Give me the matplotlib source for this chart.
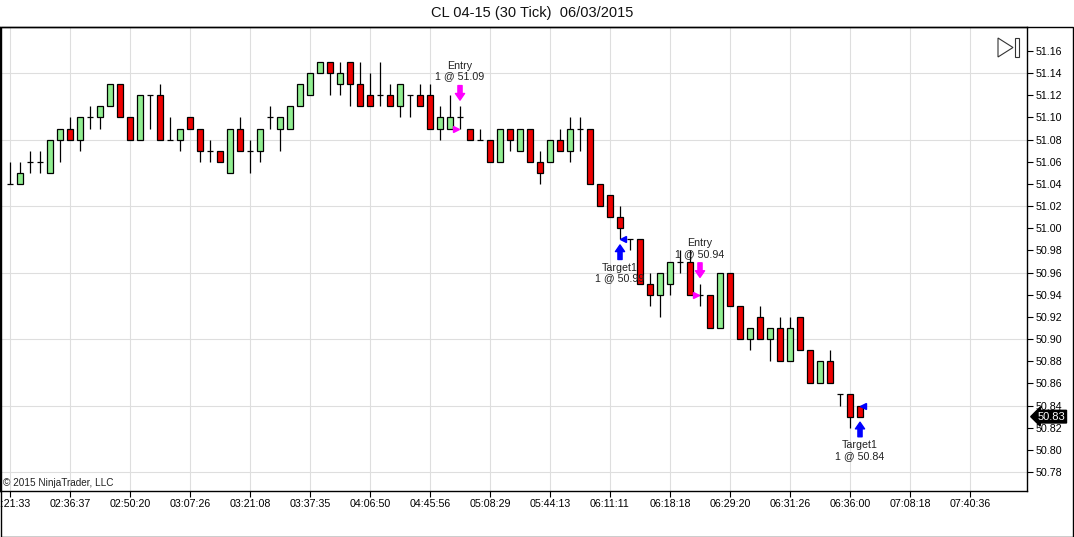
import matplotlib
matplotlib.use('Agg')
import matplotlib.pyplot as plt
import matplotlib.transforms as mtransforms
from matplotlib.patches import Polygon, Rectangle
import numpy as np

plt.rcParams['font.family'] = ['Liberation Sans', 'DejaVu Sans']

# OHLC for each 30-tick bar
opens = [51.04, 51.04, 51.06, 51.06, 51.05, 51.08, 51.09, 51.08, 51.10, 51.10,
         51.11, 51.13, 51.10, 51.08, 51.12, 51.12, 51.08, 51.08, 51.10, 51.09,
         51.07, 51.07, 51.05, 51.09, 51.07, 51.07, 51.10, 51.09, 51.09, 51.11,
         51.12, 51.14, 51.15, 51.13, 51.15, 51.13, 51.12, 51.12, 51.12, 51.11,
         51.12, 51.12, 51.12, 51.09, 51.09, 51.10, 51.09, 51.08, 51.08, 51.06,
         51.09, 51.07, 51.09, 51.06, 51.06, 51.08, 51.07, 51.09, 51.09, 51.04,
         51.03, 51.01, 50.99, 50.99, 50.95, 50.94, 50.95, 50.97, 50.97, 50.94,
         50.94, 50.91, 50.96, 50.93, 50.90, 50.92, 50.90, 50.91, 50.88, 50.92,
         50.89, 50.86, 50.88, 50.85, 50.85, 50.84]
highs = [51.06, 51.06, 51.07, 51.07, 51.08, 51.09, 51.10, 51.10, 51.11, 51.11,
         51.13, 51.13, 51.10, 51.12, 51.12, 51.13, 51.10, 51.09, 51.10, 51.09,
         51.08, 51.07, 51.09, 51.10, 51.08, 51.09, 51.11, 51.10, 51.11, 51.13,
         51.14, 51.15, 51.15, 51.15, 51.15, 51.15, 51.14, 51.15, 51.13, 51.13,
         51.12, 51.13, 51.13, 51.11, 51.12, 51.11, 51.09, 51.09, 51.08, 51.09,
         51.09, 51.09, 51.09, 51.07, 51.08, 51.09, 51.10, 51.10, 51.09, 51.04,
         51.03, 51.02, 50.99, 50.99, 50.96, 50.96, 50.97, 50.98, 50.98, 50.95,
         50.94, 50.96, 50.96, 50.93, 50.91, 50.93, 50.91, 50.92, 50.92, 50.92,
         50.89, 50.88, 50.89, 50.85, 50.85, 50.84]
lows = [51.04, 51.04, 51.05, 51.05, 51.05, 51.06, 51.08, 51.07, 51.09, 51.09,
        51.11, 51.10, 51.08, 51.08, 51.09, 51.08, 51.08, 51.07, 51.09, 51.06,
        51.06, 51.06, 51.05, 51.07, 51.05, 51.06, 51.09, 51.07, 51.09, 51.11,
        51.12, 51.14, 51.12, 51.12, 51.11, 51.11, 51.11, 51.11, 51.11, 51.10,
        51.10, 51.11, 51.09, 51.08, 51.09, 51.09, 51.08, 51.08, 51.06, 51.06,
        51.07, 51.07, 51.06, 51.04, 51.06, 51.07, 51.06, 51.07, 51.04, 51.02,
        51.01, 50.99, 50.98, 50.95, 50.93, 50.92, 50.94, 50.96, 50.94, 50.93,
        50.91, 50.91, 50.93, 50.90, 50.89, 50.90, 50.88, 50.88, 50.88, 50.89,
        50.86, 50.86, 50.86, 50.84, 50.82, 50.83]
closes = [51.04, 51.05, 51.06, 51.06, 51.08, 51.09, 51.08, 51.10, 51.10, 51.11,
          51.13, 51.10, 51.08, 51.12, 51.12, 51.08, 51.08, 51.09, 51.09, 51.07,
          51.07, 51.06, 51.09, 51.07, 51.07, 51.09, 51.10, 51.10, 51.11, 51.13,
          51.14, 51.15, 51.14, 51.14, 51.13, 51.11, 51.11, 51.12, 51.11, 51.13,
          51.12, 51.11, 51.09, 51.10, 51.10, 51.10, 51.08, 51.08, 51.06, 51.09,
          51.08, 51.09, 51.06, 51.05, 51.08, 51.07, 51.09, 51.09, 51.04, 51.02,
          51.01, 51.00, 50.99, 50.95, 50.94, 50.96, 50.97, 50.97, 50.94, 50.94,
          50.91, 50.96, 50.93, 50.90, 50.91, 50.90, 50.91, 50.88, 50.91, 50.89,
          50.86, 50.88, 50.86, 50.85, 50.83, 50.83]

time_labels = ['02:21:33', '02:36:37', '02:50:20', '03:07:26', '03:21:08', '03:37:35',
               '04:06:50', '04:45:56', '05:08:29', '05:44:13', '06:11:11', '06:18:18',
               '06:29:20', '06:31:26', '06:36:00', '07:08:18', '07:40:36']
bars_per_label = 6

# executions: bar index and fill price
entry_bars = [45, 69]
entry_prices = [51.09, 50.94]
target_bars = [61, 85]
target_prices = [50.99, 50.84]

price_ticks = np.round(np.arange(50.78, 51.161, 0.02), 2)
grid_prices = np.round(np.arange(50.78, 51.161, 0.06), 2)

up_color = '#90ee90'
down_color = '#ee0000'

W, H = 1074, 537
fig = plt.figure(figsize=(W / 100, H / 100), dpi=100)
ax = fig.add_axes([0.0, (H - 491) / H, 1027 / W, (491 - 27) / H])

n = len(opens)
x = np.arange(n)
o = np.array(opens); h = np.array(highs); l = np.array(lows); c = np.array(closes)

ax.set_xlim(-1, 101.7)
ax.set_ylim(51.16 - 440 / 1108, 51.16 + 24 / 1108)

# grid
for gx in range(0, 101, bars_per_label):
    ax.axvline(gx, color='#dedede', lw=0.8, zorder=0)
for gp in grid_prices:
    ax.axhline(gp, color='#dedede', lw=0.8, zorder=0)

# wicks
ax.vlines(x, l, h, color='black', lw=0.9, zorder=2)
body_w = 0.65
up = c > o
down = c < o
flat = c == o
ax.bar(x[up], (c - o)[up], bottom=o[up], width=body_w, color=up_color,
       edgecolor='black', linewidth=0.9, zorder=3)
ax.bar(x[down], (o - c)[down], bottom=c[down], width=body_w, color=down_color,
       edgecolor='black', linewidth=0.9, zorder=3)
ax.hlines(c[flat], x[flat] - body_w / 2, x[flat] + body_w / 2, color='black', lw=0.9, zorder=3)

# entries
for b, p in zip(entry_bars, entry_prices):
    ax.plot(b - 0.38, p, marker='>', color='magenta', ms=4.5, mec='magenta', zorder=4)
    ax.annotate('', xy=(b, h[b]), xytext=(0, 15), textcoords='offset points',
                arrowprops=dict(arrowstyle='simple,head_length=0.4,head_width=0.55,tail_width=0.25',
                                color='magenta', shrinkA=0, shrinkB=4.5, mutation_scale=12), zorder=4)
    ax.annotate(f'Entry\n1 @ {p:.2f}', xy=(b, h[b]), xytext=(-0.5, 18), textcoords='offset points',
                ha='center', va='bottom', fontsize=7.7, color='#222222', linespacing=1.05)

# targets
for b, p in zip(target_bars, target_prices):
    ax.plot(b + 0.35, p, marker='<', color='blue', ms=4.5, mec='blue', zorder=4)
    ax.annotate('', xy=(b, l[b]), xytext=(0, -14.5), textcoords='offset points',
                arrowprops=dict(arrowstyle='simple,head_length=0.4,head_width=0.55,tail_width=0.25',
                                color='blue', shrinkA=0, shrinkB=4, mutation_scale=12), zorder=4)
    ax.annotate(f'Target1\n1 @ {p:.2f}', xy=(b, l[b]), xytext=(0, -17), textcoords='offset points',
                ha='center', va='top', fontsize=7.7, color='#222222', linespacing=1.05)

# axes styling
ax.yaxis.tick_right()
ax.set_yticks(price_ticks)
ax.set_yticklabels([f'{p:.2f}' for p in price_ticks])
ax.set_xticks(range(0, bars_per_label * len(time_labels), bars_per_label))
ax.set_xticklabels(time_labels)
ax.tick_params(axis='both', direction='out', length=4, width=0.8, labelsize=7.7,
               colors='black', pad=2)
for s in ax.spines.values():
    s.set_linewidth(1.0)
    s.set_color('black')

# last price marker
trans = mtransforms.blended_transform_factory(ax.transAxes, ax.transData)
ax.annotate(f'{c[-1]:.2f}', xy=(1.0, c[-1]), xycoords=trans, xytext=(7.5, 0),
            textcoords='offset points', ha='left', va='center', color='white', fontsize=8,
            bbox=dict(boxstyle='larrow,pad=0.12', fc='black', ec='black'), annotation_clip=False)

# scroll-to-end icon
def axp(px, py):
    return (px / 1027, (491 - py) / 464)
ax.add_patch(Polygon([axp(998, 38), axp(998, 57), axp(1013, 47.5)], closed=True, fill=False,
                     ec='#333333', lw=0.8, transform=ax.transAxes, zorder=5))
x0, y0 = axp(1014.5, 57)
x1, y1 = axp(1018.5, 38)
ax.add_patch(Rectangle((x0, y0), x1 - x0, y1 - y0, fill=False, ec='#333333', lw=0.8,
                       transform=ax.transAxes, zorder=5))

ax.text(0.003, 0.006, '\u00a9 2015 NinjaTrader, LLC', transform=ax.transAxes, fontsize=7.2,
        color='#222222', ha='left', va='bottom')

fig.text(532 / W, 1 - 13 / H, 'CL 04-15 (30 Tick)  06/03/2015', ha='center', va='center',
         fontsize=10.5, color='#111111')

# outer frame
fig.add_artist(Rectangle((0.5 / W, 0.5 / H), (W - 1.5) / W, (H - 27.5) / H, fill=False,
                         ec='black', lw=1.0, transform=fig.transFigure))

fig.savefig('out.png', dpi=100)
